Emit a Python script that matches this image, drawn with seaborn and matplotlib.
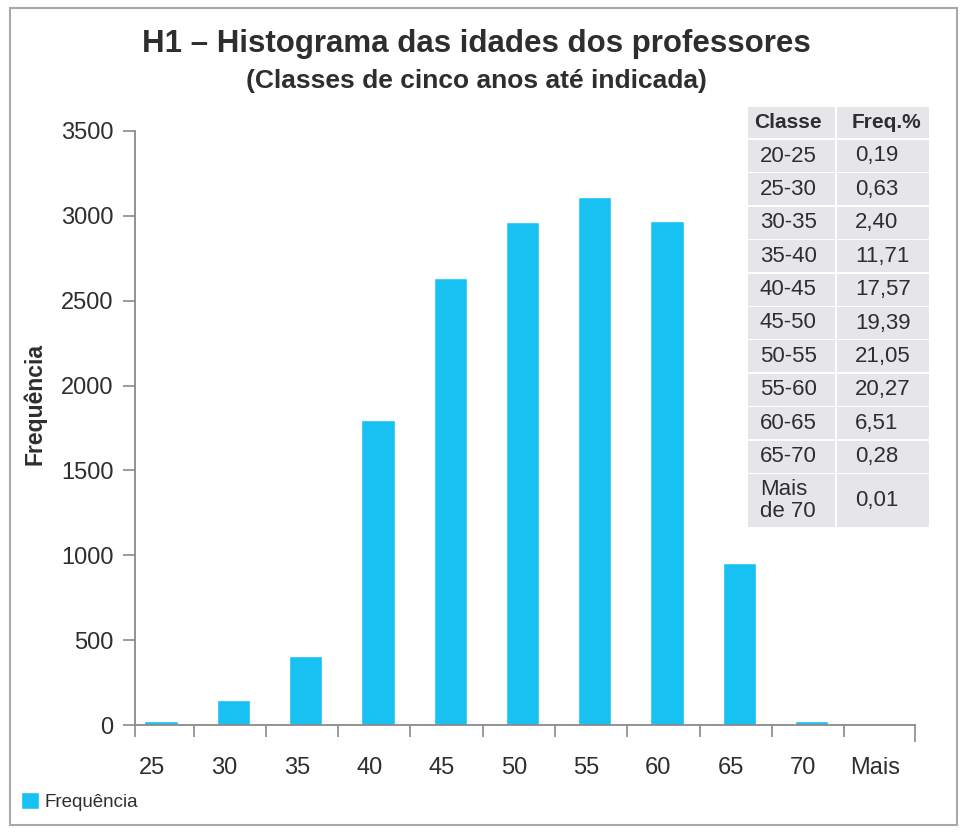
import matplotlib.pyplot as plt
import matplotlib.patches as mpatches
import seaborn as sns
import pandas as pd

# dados do histograma
classes = ['25', '30', '35', '40', '45', '50', '55', '60', '65', '70', 'Mais']
frequencia = [24, 147, 407, 1797, 2634, 2964, 3111, 2970, 955, 24, 0]

# tabela de frequência relativa
tabela_classe = ['20-25', '25-30', '30-35', '35-40', '40-45', '45-50',
                 '50-55', '55-60', '60-65', '65-70', 'Mais\nde 70']
tabela_freq = ['0,19', '0,63', '2,40', '11,71', '17,57', '19,39',
               '21,05', '20,27', '6,51', '0,28', '0,01']

W, H = 962, 833
COR_BARRA = '#17c2f2'
COR_TEXTO = '#2e2e2e'
COR_EIXO = '#8a8a8a'

sns.set_theme(style='white')
plt.rcParams['font.family'] = ['Liberation Sans', 'DejaVu Sans']

df = pd.DataFrame({'classe': classes, 'freq': frequencia})


def fx(x):
    return x / W


def fy(y):
    return 1 - y / H


fig = plt.figure(figsize=(W / 100, H / 100), dpi=100)
ax = fig.add_axes([fx(135), fy(725), fx(915) - fx(135), fy(131) - fy(725)])

sns.barplot(data=df, x='classe', y='freq', color=COR_BARRA, saturation=1,
            width=0.46, ax=ax, label='Frequência')
if ax.get_legend() is not None:
    ax.get_legend().remove()

ax.set_ylim(0, 3500)
ax.set_xlim(-0.36, 10.43)
ax.set_yticks(range(0, 3501, 500))
ax.set_xlabel('')
ax.set_ylabel('')
for s in ['top', 'right']:
    ax.spines[s].set_visible(False)
for s in ['left', 'bottom']:
    ax.spines[s].set_color(COR_EIXO)
    ax.spines[s].set_linewidth(1.3)

ax.tick_params(axis='y', direction='out', length=8.6, width=1.2, color=COR_EIXO,
               labelsize=17, labelcolor=COR_TEXTO, pad=7, left=True)
# rótulos ligeiramente à esquerda das barras, como no original
ax.set_xticks([i - 0.12 for i in range(len(classes))], classes)
ax.tick_params(axis='x', which='major', length=0, labelsize=17,
               labelcolor=COR_TEXTO, pad=23)
limites = [-0.36] + [i + 0.45 for i in range(10)] + [10.43]
ax.set_xticks(limites, minor=True)
ax.tick_params(axis='x', which='minor', direction='out', length=8.6, width=1.2,
               color=COR_EIXO, bottom=True)
ax.xaxis.get_minor_ticks()[-1].tick1line.set_markersize(12.5)

# títulos
fig.text(fx(476), fy(44), 'H1 – Histograma das idades dos professores',
         ha='center', va='center', fontsize=22.5, fontweight='bold', color=COR_TEXTO)
fig.text(fx(476), fy(81), '(Classes de cinco anos até indicada)',
         ha='center', va='center', fontsize=19, fontweight='bold', color=COR_TEXTO)
fig.text(fx(35), fy(404), 'Frequência', rotation=90, ha='center', va='center',
         fontsize=16.5, fontweight='bold', color=COR_TEXTO)

# tabela
cols = [(748, 835), (837, 929)]
linhas = [(107, 138)]
y = 140
for c in tabela_classe:
    h = 53 if '\n' in c else 32
    linhas.append((y, y + h))
    y += h + 1.4
conteudo = [('Classe', 'Freq.%')] + list(zip(tabela_classe, tabela_freq))
for i, ((y0, y1), (a, b)) in enumerate(zip(linhas, conteudo)):
    for j, ((x0, x1), txt) in enumerate(zip(cols, (a, b))):
        fig.add_artist(mpatches.Rectangle((fx(x0), fy(y1)), fx(x1) - fx(x0),
                                          fy(y0) - fy(y1), transform=fig.transFigure,
                                          facecolor='#e6e6ea', edgecolor='none'))
        tx = (754 if j == 0 else 852) if i == 0 else (760 if j == 0 else 855)
        fig.text(fx(tx), fy((y0 + y1) / 2), txt, ha='left', va='center',
                 fontsize=15 if i == 0 else 16, color=COR_TEXTO,
                 fontweight='bold' if i == 0 else 'normal', linespacing=1.1)

# legenda
fig.legend(loc='lower left', bbox_to_anchor=(fx(21), fy(811)), frameon=False,
           fontsize=13.5, handlelength=0.95, handleheight=0.95, handletextpad=0.3,
           borderpad=0, borderaxespad=0, labelcolor=COR_TEXTO)

# moldura
fig.add_artist(mpatches.Rectangle((fx(10), fy(825)), fx(957) - fx(10),
                                  fy(8) - fy(825), transform=fig.transFigure,
                                  facecolor='none', edgecolor='#a8a8a8', linewidth=1.5))

fig.savefig('out.png', dpi=100)
